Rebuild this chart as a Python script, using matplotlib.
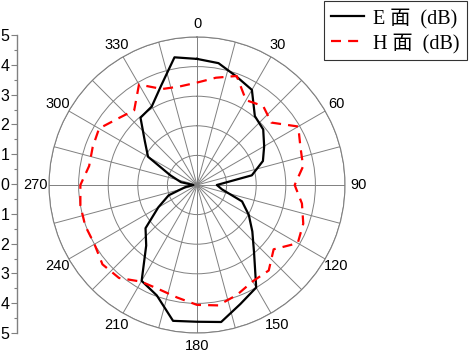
import numpy as np
import matplotlib
matplotlib.use("Agg")
import matplotlib.pyplot as plt
from matplotlib.ticker import MultipleLocator

# angle (deg, clockwise from top) and level for the two planes
angles = list(range(0, 360, 10))
e_plane = [4.26, 4.18, 3.90, 3.71, 3.04, 2.92, 2.62, 2.37, 1.88, 0.67,
           0.86, 1.62, 2.02, 2.44, 3.00, 4.00, 4.28, 4.70, 4.62, 4.66,
           3.97, 3.74, 2.67, 2.27, 1.51, 1.02, 0.40, 0.12, 0.55, 0.96,
           1.91, 2.30, 2.97, 3.06, 3.56, 4.38]
h_plane = [3.46, 3.68, 3.92, 3.31, 3.48, 3.28, 3.95, 3.72, 3.64, 3.30,
           3.60, 3.82, 3.93, 3.38, 3.77, 3.76, 3.95, 4.13, 4.05, 3.86,
           3.75, 3.77, 4.10, 4.17, 4.00, 4.02, 4.00, 3.94, 3.70, 3.75,
           3.82, 3.49, 3.30, 3.92, 3.45, 3.38]
theta_ticks = list(range(0, 360, 15))
r_ticks = [-5, -4, -3, -2, -1, 0, 1, 2, 3, 4, 5]

GRID = "#808080"
plt.rcParams["font.family"] = ["Liberation Sans", "DejaVu Sans"]

fig = plt.figure(figsize=(4.72, 3.54), dpi=100)
ax = fig.add_axes([49 / 472, 21 / 354, 296 / 472, 296 / 354], projection="polar")
ax.set_theta_zero_location("N")
ax.set_theta_direction(-1)
ax.set_ylim(0, 5)
ax.set_rticks([1, 2, 3, 4, 5])
ax.set_yticklabels([])
ax.set_thetagrids(theta_ticks, [str(t) if t % 30 == 0 else "" for t in theta_ticks])
ax.tick_params(axis="x", labelsize=10.5, pad=-1)
ax.grid(True, color=GRID, linewidth=0.7)
ax.spines["polar"].set_color(GRID)
ax.spines["polar"].set_linewidth(0.8)

th = np.deg2rad(angles + [angles[0]])
ax.plot(th, e_plane + [e_plane[0]], color="black", lw=1.6, label="E 面  (dB)")
ax.plot(th, h_plane + [h_plane[0]], color="red", lw=1.6,
        linestyle=(0, (4.5, 3.2)), label="H 面  (dB)")

# radial scale drawn on the left, Origin-style
rax = fig.add_axes([17 / 472, 21 / 354, 0.001, 298 / 354])
rax.set_ylim(-5, 5)
for s in ["top", "right", "bottom"]:
    rax.spines[s].set_visible(False)
rax.spines["left"].set_color(GRID)
rax.spines["left"].set_linewidth(1.0)
rax.set_xticks([])
rax.set_yticks(r_ticks)
rax.set_yticklabels([str(abs(v)) for v in r_ticks])
rax.yaxis.set_minor_locator(MultipleLocator(0.5))
rax.tick_params(axis="y", which="major", length=4, width=0.8, color=GRID, labelsize=11.5, pad=1.5)
rax.tick_params(axis="y", which="minor", length=2, width=0.8, color=GRID)
rax.patch.set_visible(False)

leg = ax.legend(loc="upper right", bbox_to_anchor=(467 / 472, 1 - 1 / 354),
                bbox_transform=fig.transFigure, frameon=True, fancybox=False,
                prop={"family": ["Liberation Serif", "Noto Sans CJK SC"], "size": 14.5},
                handlelength=1.65, handletextpad=0.45, borderpad=0.35,
                labelspacing=0.25, borderaxespad=0)
leg.get_frame().set_edgecolor("black")
leg.get_frame().set_linewidth(0.8)

fig.savefig("out.png", dpi=100)
